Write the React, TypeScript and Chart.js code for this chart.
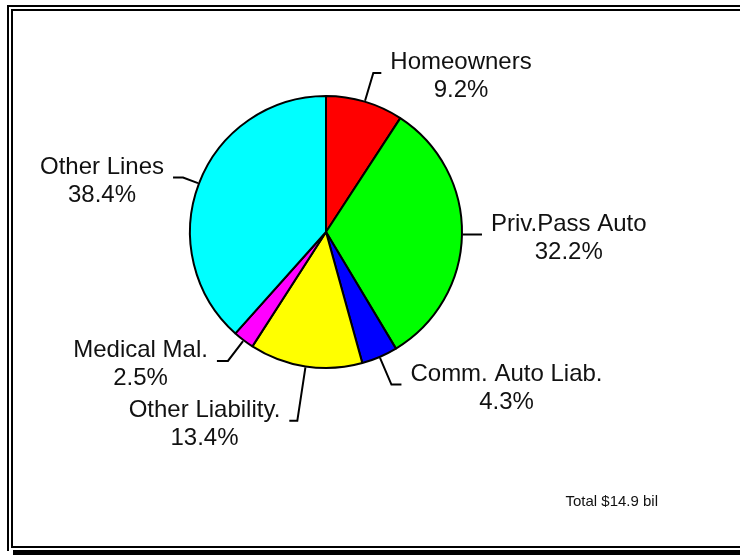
import React, { useEffect, useRef } from "react";
import { Chart, registerables } from "chart.js";

Chart.register(...registerables);

const categories = [
  "Homeowners",
  "Priv.Pass Auto",
  "Comm. Auto Liab.",
  "Other Liability.",
  "Medical Mal.",
  "Other Lines",
];
const shares = [9.2, 32.2, 4.3, 13.4, 2.5, 38.4];
const sliceColors = ["#FF0000", "#00FF00", "#0000FF", "#FFFF00", "#FF00FF", "#00FFFF"];
const totalLabel = "Total $14.9 bil";

// leader-line layout (px)
const leaderRadial = [29, 2, 29, 54, 25, 16];
const leaderHoriz = [8, 17, 10, 8, 11, 10];

const FONT = "'Liberation Sans', Arial, Helvetica, sans-serif";

export default function App() {
  const ref = useRef<HTMLCanvasElement>(null);

  useEffect(() => {
    document.body.style.margin = "0";
    const canvas = ref.current!;

    const framePlugin = {
      id: "frame",
      beforeDraw(chart: any) {
        const ctx = chart.ctx;
        ctx.save();
        ctx.fillStyle = "#ffffff";
        ctx.fillRect(0, 0, 740, 555);
        ctx.fillStyle = "#000000";
        // outer frame
        ctx.fillRect(7, 5, 2, 546);
        ctx.fillRect(7, 5, 740, 2);
        // inner frame
        ctx.fillRect(11, 9, 2, 539);
        ctx.fillRect(11, 9, 740, 2);
        ctx.fillRect(11, 546, 740, 2);
        // bottom shadow line
        ctx.fillRect(13, 550, 740, 5);
        ctx.restore();
      },
    };

    const labelPlugin = {
      id: "sliceLabels",
      afterDatasetsDraw(chart: any) {
        const ctx = chart.ctx;
        const meta = chart.getDatasetMeta(0);
        ctx.save();
        ctx.strokeStyle = "#000";
        ctx.lineWidth = 2;
        ctx.fillStyle = "#111";
        ctx.font = `24px ${FONT}`;
        meta.data.forEach((arc: any, i: number) => {
          const { x, y, startAngle, endAngle, outerRadius } = arc.getProps(
            ["x", "y", "startAngle", "endAngle", "outerRadius"],
            true
          );
          const mid = (startAngle + endAngle) / 2;
          const R = outerRadius + 1;
          const c = Math.cos(mid);
          const s = Math.sin(mid);
          const p0x = x + c * R;
          const p0y = y + s * R;
          const p1x = x + c * (R + leaderRadial[i]);
          const p1y = y + s * (R + leaderRadial[i]);
          const right = c >= 0;
          const p2x = p1x + (right ? 1 : -1) * leaderHoriz[i];
          const p2y = p1y;
          ctx.beginPath();
          ctx.moveTo(p0x, p0y);
          ctx.lineTo(p1x, p1y);
          ctx.lineTo(p2x, p2y);
          ctx.stroke();

          const lines = [categories[i], shares[i].toFixed(1) + "%"];
          const w = Math.max(...lines.map((l) => ctx.measureText(l).width));
          const gap = 9;
          const bc = right ? p2x + gap + w / 2 : p2x - gap - w / 2;
          ctx.textAlign = "center";
          ctx.textBaseline = "alphabetic";
          const b1 = p2y - 3.5;
          ctx.fillText(lines[0], bc, b1);
          ctx.fillText(lines[1], bc, b1 + 28);
        });

        ctx.font = `15px ${FONT}`;
        ctx.textAlign = "right";
        ctx.fillText(totalLabel, 658, 506);
        ctx.restore();
      },
    };

    const chart = new Chart(canvas, {
      type: "pie",
      data: {
        labels: categories,
        datasets: [
          {
            data: shares,
            backgroundColor: sliceColors,
            borderColor: "#000000",
            borderWidth: 2,
          },
        ],
      },
      options: {
        responsive: false,
        animation: false,
        devicePixelRatio: 1,
        layout: { padding: { left: 189, top: 95, right: 277, bottom: 186 } },
        plugins: {
          legend: { display: false },
          tooltip: { enabled: false },
          title: { display: false },
        },
      },
      plugins: [framePlugin, labelPlugin],
    });

    return () => chart.destroy();
  }, []);

  return <canvas ref={ref} width={740} height={555} style={{ display: "block" }} />;
}
